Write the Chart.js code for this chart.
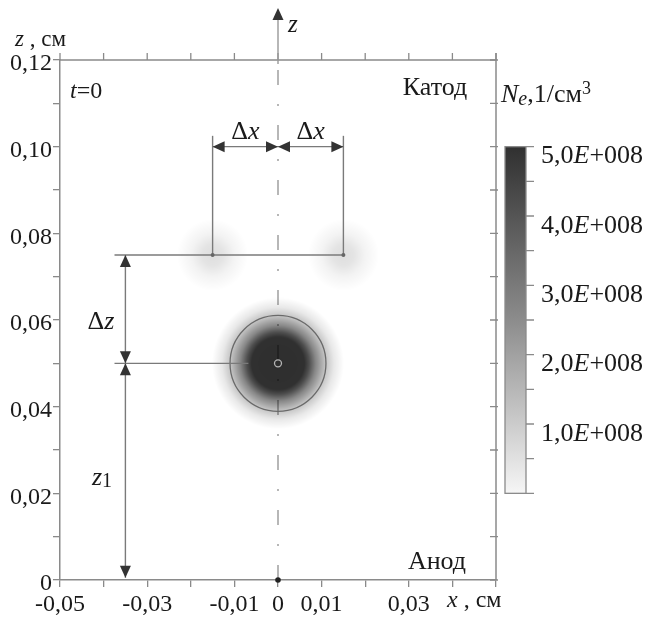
<!DOCTYPE html>
<html>
<head>
<meta charset="utf-8">
<script src="https://cdn.jsdelivr.net/npm/chart.js@4.4.1/dist/chart.umd.min.js"></script>
<style>
  html, body { margin: 0; padding: 0; background: #fff; }
  #wrap { width: 648px; height: 619px; }
</style>
</head>
<body>
<div id="wrap"><canvas id="field"></canvas></div>
<script>
// axes, cm
const X_TICKS = [-0.05, -0.04, -0.03, -0.02, -0.01, 0, 0.01, 0.02, 0.03, 0.04, 0.05];
const X_LABELS = ['-0,05', '', '-0,03', '', '-0,01', '0', '0,01', '', '0,03', '', ''];
const Y_TICKS = [0, 0.01, 0.02, 0.03, 0.04, 0.05, 0.06, 0.07, 0.08, 0.09, 0.10, 0.11, 0.12];
const Y_LABELS = ['0', '', '0,02', '', '0,04', '', '0,06', '', '0,08', '', '0,10', '', '0,12'];

// electron density blobs: centres (cm) and peak Ne (1/cm3)
const BLOB_X = [0, -0.015, 0.015];
const BLOB_Z = [0.05, 0.075, 0.075];
const BLOB_NE = [5.0e8, 0.8e8, 0.8e8];
const CONTOUR_R = 0.011;

// dimension lines (cm)
const DX = 0.015;
const Z_TOP = 0.075;
const Z_MID = 0.05;
const DIM_X = -0.035;
const DIM_Y = 0.10;

// colour bar
const CB_MAX = 5e8;
const CB_TICKS = [0, 0.5e8, 1e8, 1.5e8, 2e8, 2.5e8, 3e8, 3.5e8, 4e8, 4.5e8, 5e8];
const CB_VALUES = [1e8, 2e8, 3e8, 4e8, 5e8];
const CB_LABELS = ['1,0', '2,0', '3,0', '4,0', '5,0'];

const SERIF = '"Liberation Serif", "Times New Roman", Tinos, "DejaVu Serif", "Noto Serif", serif';
const AXIS = '#8a8a8a';
const LINE = '#7a7a7a';

function makeBlob(ne, r, stops) {
  const c = document.createElement('canvas');
  c.width = c.height = r * 2;
  const g = c.getContext('2d');
  const grad = g.createRadialGradient(r, r, 0, r, r, r);
  const a = 0.82 * ne / CB_MAX;
  stops.forEach(([t, f]) => grad.addColorStop(t, 'rgba(0,0,0,' + (a * f).toFixed(3) + ')'));
  g.fillStyle = grad;
  g.fillRect(0, 0, r * 2, r * 2);
  return c;
}

const bigBlob = makeBlob(BLOB_NE[0], 66, [[0, 1], [0.4, 0.99], [0.47, 0.85], [0.57, 0.58], [0.71, 0.3], [0.85, 0.11], [1, 0]]);
const smallBlob = makeBlob(BLOB_NE[1], 36, [[0, 1], [0.3, 0.8], [0.6, 0.35], [1, 0]]);

function seg(x1, z1, x2, z2) {
  return {
    data: [{ x: x1, y: z1 }, { x: x2, y: z2 }],
    showLine: true, borderColor: LINE, borderWidth: 1.4, pointRadius: 0, order: 2
  };
}

// text with mixed upright / italic / sub / sup runs
function drawRuns(ctx, x, y, parts, size, align) {
  const font = (p) => (p[1] || 'normal') + ' ' + Math.round(size * (p[3] || 1)) + 'px ' + SERIF;
  let w = 0;
  parts.forEach(p => { ctx.font = font(p); w += ctx.measureText(p[0]).width; });
  let cx = align === 'center' ? x - w / 2 : (align === 'right' ? x - w : x);
  ctx.textAlign = 'left';
  ctx.textBaseline = 'middle';
  parts.forEach(p => {
    ctx.font = font(p);
    ctx.fillText(p[0], cx, y + (p[2] || 0));
    cx += ctx.measureText(p[0]).width;
  });
}

function arrow(ctx, x, y, dir) {
  const L = 12, H = 5.5;
  ctx.save();
  ctx.translate(x, y);
  ctx.rotate({ up: 0, right: Math.PI / 2, down: Math.PI, left: -Math.PI / 2 }[dir]);
  ctx.beginPath();
  ctx.moveTo(0, 0);
  ctx.lineTo(H, L);
  ctx.lineTo(-H, L);
  ctx.closePath();
  ctx.fillStyle = '#333';
  ctx.fill();
  ctx.restore();
}

const decor = {
  id: 'decor',
  afterDatasetsDraw(chart) {
    const ctx = chart.ctx;
    const { x, y } = chart.scales;
    const a = chart.chartArea;
    ctx.save();

    // top and right frame
    ctx.strokeStyle = AXIS;
    ctx.lineWidth = 1.5;
    ctx.beginPath();
    ctx.moveTo(a.left, a.top); ctx.lineTo(a.right, a.top);
    ctx.moveTo(a.right, a.top - 7); ctx.lineTo(a.right, a.bottom);
    ctx.stroke();
    ctx.lineWidth = 1.3;
    ctx.beginPath();
    X_TICKS.forEach(v => { const px = x.getPixelForValue(v); ctx.moveTo(px, a.top); ctx.lineTo(px, a.top - 7); });
    Y_TICKS.forEach(v => { const py = y.getPixelForValue(v); ctx.moveTo(a.right + 2, py); ctx.lineTo(a.right - 6, py); });
    ctx.stroke();

    // z axis arrow above the frame
    const x0 = x.getPixelForValue(0);
    ctx.strokeStyle = '#999';
    ctx.lineWidth = 1.4;
    ctx.beginPath();
    ctx.moveTo(x0, 20); ctx.lineTo(x0, a.top + 4);
    ctx.stroke();
    arrow(ctx, x0, 8, 'up');

    // dimension arrowheads
    [[-DX, DIM_Y, 'left'], [0, DIM_Y, 'right'], [0, DIM_Y, 'left'], [DX, DIM_Y, 'right'],
     [DIM_X, Z_TOP, 'up'], [DIM_X, Z_MID, 'down'], [DIM_X, Z_MID, 'up'], [DIM_X, 0.0005, 'down']]
      .forEach(([vx, vz, d]) => arrow(ctx, x.getPixelForValue(vx), y.getPixelForValue(vz), d));

    // colour bar
    const cbL = a.right + 9, cbR = cbL + 21;
    const cbT = y.getPixelForValue(0.10), cbB = y.getPixelForValue(0.02);
    const cy = v => cbB - (cbB - cbT) * v / CB_MAX;
    const g = ctx.createLinearGradient(0, cbT, 0, cbB);
    g.addColorStop(0, '#303030');
    g.addColorStop(0.5, '#8c8c8c');
    g.addColorStop(1, '#f6f6f6');
    ctx.fillStyle = g;
    ctx.fillRect(cbL, cbT, cbR - cbL, cbB - cbT);
    ctx.strokeStyle = AXIS;
    ctx.lineWidth = 1.3;
    ctx.strokeRect(cbL, cbT, cbR - cbL, cbB - cbT);
    ctx.beginPath();
    CB_TICKS.forEach(v => { ctx.moveTo(cbR, cy(v)); ctx.lineTo(cbR + 8, cy(v)); });
    ctx.stroke();

    ctx.fillStyle = '#1a1a1a';
    CB_VALUES.forEach((v, i) => {
      drawRuns(ctx, cbR + 15, cy(v) + 10, [[CB_LABELS[i]], ['E', 'italic'], ['+008']], 26, 'left');
    });

    // labels
    drawRuns(ctx, 501, 95, [['N', 'italic'], ['e', 'italic', 5, 0.75], [',1/см'], ['3', '', -6, 0.7]], 26, 'left');
    drawRuns(ctx, 15, 40, [['z', 'italic'], [' , см']], 23, 'left');
    drawRuns(ctx, x0 + 10, 25, [['z', 'italic']], 25, 'left');
    drawRuns(ctx, 70, 92, [['t', 'italic'], ['=0']], 24, 'left');
    drawRuns(ctx, 435, 88, [['Катод']], 26, 'center');
    drawRuns(ctx, 437, 562, [['Анод']], 26, 'center');
    drawRuns(ctx, 447, 601, [['x', 'italic'], [' , см']], 24, 'left');
    const xl = x.getPixelForValue(-DX / 2), xr = x.getPixelForValue(DX / 2);
    drawRuns(ctx, xl, 132, [['Δ'], ['x', 'italic']], 26, 'center');
    drawRuns(ctx, xr, 132, [['Δ'], ['x', 'italic']], 26, 'center');
    drawRuns(ctx, 101, 322, [['Δ'], ['z', 'italic']], 26, 'center');
    drawRuns(ctx, 102, 478, [['z', 'italic'], ['1', 'normal', 4, 0.75]], 26, 'center');
    ctx.restore();
  }
};

const tickFont = { family: SERIF, size: 24 };

new Chart(document.getElementById('field'), {
  type: 'scatter',
  data: {
    datasets: [
      {
        data: BLOB_X.map((v, i) => ({ x: v, y: BLOB_Z[i] })),
        pointStyle: ctx => (ctx.dataIndex === 0 ? bigBlob : smallBlob),
        order: 10
      },
      {
        data: [{ x: BLOB_X[0], y: BLOB_Z[0] }],
        pointStyle: 'circle',
        pointRadius: ctx => ctx.chart.scales.x.getPixelForValue(CONTOUR_R) - ctx.chart.scales.x.getPixelForValue(0),
        backgroundColor: 'rgba(0,0,0,0)', borderColor: '#6a6a6a', borderWidth: 1.3, order: 5
      },
      {
        data: [{ x: BLOB_X[0], y: BLOB_Z[0] }],
        pointStyle: 'circle', pointRadius: 3.5,
        backgroundColor: 'rgba(0,0,0,0)', borderColor: '#b4b4b4', borderWidth: 1.3, order: 4
      },
      {
        // z axis, dash-dot, under the blobs
        data: [{ x: 0, y: 0 }, { x: 0, y: 0.12 }],
        showLine: true, borderColor: '#999', borderWidth: 1.4, pointRadius: 0,
        borderDash: [15, 19, 2, 19], order: 11
      },
      seg(-0.0375, Z_TOP, DX, Z_TOP),
      seg(-0.0375, Z_MID, -0.0068, Z_MID),
      seg(-DX, Z_TOP, -DX, 0.1025),
      seg(DX, Z_TOP, DX, 0.1025),
      seg(-DX, DIM_Y, DX, DIM_Y),
      seg(DIM_X, Z_TOP, DIM_X, 0.0005),
      {
        data: [{ x: -DX, y: Z_TOP }, { x: DX, y: Z_TOP }],
        pointRadius: 2, backgroundColor: '#666', borderWidth: 0, order: 1
      },
      {
        data: [{ x: 0, y: 0 }],
        pointRadius: 2.8, backgroundColor: '#222', borderWidth: 0, order: 1, clip: false
      }
    ]
  },
  options: {
    responsive: true,
    maintainAspectRatio: false,
    animation: false,
    layout: { padding: { top: 60, right: 152, left: 0, bottom: 0 } },
    plugins: { legend: { display: false }, tooltip: { enabled: false } },
    scales: {
      x: {
        type: 'linear', min: -0.05, max: 0.05,
        afterBuildTicks: s => { s.ticks = X_TICKS.map(v => ({ value: v })); },
        afterFit: s => { s.height = 39; },
        grid: { drawOnChartArea: false, tickLength: 7, color: AXIS, lineWidth: 1.3 },
        border: { color: AXIS, width: 1.5 },
        ticks: {
          autoSkip: false, maxRotation: 0, padding: 3, color: '#1a1a1a', font: tickFont,
          callback: (v, i) => X_LABELS[i]
        }
      },
      y: {
        type: 'linear', min: 0, max: 0.12,
        afterBuildTicks: s => { s.ticks = Y_TICKS.map(v => ({ value: v })); },
        afterFit: s => { s.width = 60; },
        grid: { drawOnChartArea: false, tickLength: 7, color: AXIS, lineWidth: 1.3 },
        border: { color: AXIS, width: 1.5 },
        ticks: {
          autoSkip: false, padding: 1, labelOffset: 4, color: '#1a1a1a', font: tickFont,
          callback: (v, i) => Y_LABELS[i]
        }
      }
    }
  },
  plugins: [decor]
});
</script>
</body>
</html>
